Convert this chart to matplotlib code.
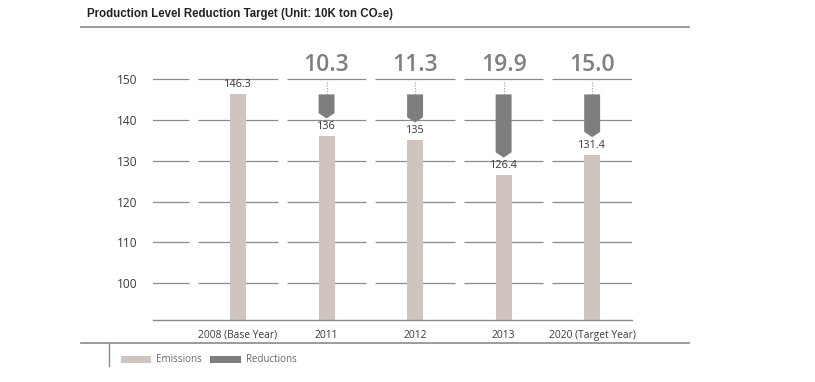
import numpy as np
import matplotlib.pyplot as plt
from matplotlib.patches import Polygon, Rectangle
from matplotlib.lines import Line2D

categories = ['2008 (Base Year)', '2011', '2012', '2013', '2020 (Target Year)']
emissions = [146.3, 136, 135, 126.4, 131.4]
emission_labels = ['146.3', '136', '135', '126.4', '131.4']
reductions = [None, 10.3, 11.3, 19.9, 15.0]
yticks = [100, 110, 120, 130, 140, 150]

c_emis = '#cfc5be'
c_red = '#7e7e81'
c_grid = '#8c8c8c'
c_text = '#3a3a3a'

plt.rcParams['font.family'] = ['Open Sans', 'DejaVu Sans']

W, H = 815, 382
fig = plt.figure(figsize=(W / 100, H / 100), dpi=100)
ax = fig.add_axes([153 / W, 1 - 320 / H, (632 - 153) / W, (320 - 71.2) / H])
ax.set_xlim(-0.96, 4.45)
ax.set_ylim(90.9, 152)

x = np.arange(len(categories))
bw = 0.18

# segmented gridlines (one piece per column + a stub on the left)
for yv in yticks:
    for c in [-1] + list(x):
        ax.plot([c - 0.45, c + 0.45], [yv, yv], color=c_grid, lw=0.9, zorder=1,
                solid_capstyle='butt')

ax.bar(x, [e - 90.9 for e in emissions], bottom=90.9, width=bw, color=c_emis,
       zorder=2)
for xi, e, lab in zip(x, emissions, emission_labels):
    ax.annotate(lab, (xi, e), xytext=(0, 3), textcoords='offset points',
                ha='center', va='bottom', fontsize=7.8, color=c_text)

base = emissions[0]
tip = 1.3
for xi, e, r in zip(x, emissions, reductions):
    if r is None:
        continue
    bot = e + 4.4
    poly = Polygon([(xi - bw / 2, base), (xi + bw / 2, base), (xi + bw / 2, bot + tip),
                    (xi, bot), (xi - bw / 2, bot + tip)], closed=True,
                   facecolor=c_red, edgecolor='none', zorder=3)
    ax.add_patch(poly)
    ax.plot([xi, xi], [149.3, base + 0.2], color='#9a9a9a', lw=0.8,
            linestyle=(0, (1, 1.5)), zorder=2)
    ax.annotate(f'{r:.1f}', (xi, 150), xytext=(0, 2), textcoords='offset points',
                ha='center', va='bottom', fontsize=16.5, fontweight='semibold',
                color='#7f7f7f', annotation_clip=False)

for s in ['top', 'right', 'left']:
    ax.spines[s].set_visible(False)
ax.spines['bottom'].set_color(c_grid)
ax.spines['bottom'].set_linewidth(1)
ax.set_yticks(yticks)
ax.set_xticks(x)
ax.set_xticklabels(categories)
ax.tick_params(axis='both', length=0, colors=c_text)
ax.tick_params(axis='x', labelsize=7.4, pad=7)
ax.tick_params(axis='y', labelsize=8.6, pad=11)

# title and frame lines
fig.text(87 / W, 1 - 14 / H, 'Production Level Reduction Target (Unit: 10K ton CO\u2082e)',
         ha='left', va='center', fontsize=8.3, fontweight='bold', color='#222222',
         family=['Liberation Sans', 'DejaVu Sans'])
fig.add_artist(Line2D([81 / W, 689 / W], [1 - 27.3 / H] * 2, color='#8a8a8a', lw=1.2))
fig.add_artist(Line2D([81 / W, 689 / W], [1 - 342.5 / H] * 2, color='#8a8a8a', lw=1.2))
fig.add_artist(Line2D([109.3 / W] * 2, [1 - 342.5 / H, 1 - 366 / H], color='#8a8a8a', lw=1))

# legend
for x0, x1, col, lab in [(121, 151, c_emis, 'Emissions'), (210, 241, c_red, 'Reductions')]:
    fig.add_artist(Rectangle((x0 / W, 1 - 362.7 / H), (x1 - x0) / W, 7 / H,
                             facecolor=col, edgecolor='none', transform=fig.transFigure))
    fig.text((x1 + 5) / W, 1 - 359 / H, lab, ha='left', va='center', fontsize=7,
             color='#666666')

fig.savefig('out.png', dpi=100)
